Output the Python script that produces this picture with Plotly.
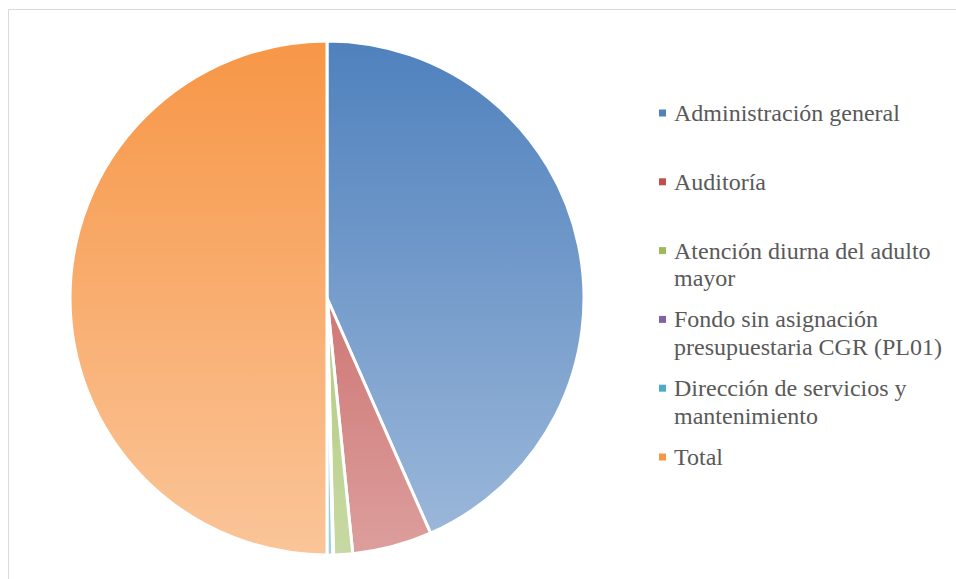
import base64
import plotly.graph_objects as go

# Budget share by program (percent of the pie)
categories = [
    "Administración general",
    "Auditoría",
    "Atención diurna del adulto mayor",
    "Fondo sin asignación presupuestaria CGR (PL01)",
    "Dirección de servicios y mantenimiento",
    "Total",
]
values = [43.4, 5.0, 1.2, 0.05, 0.35, 50.0]
colors = ["#4f81bd", "#c0504d", "#9bbb59", "#8064a2", "#4bacc6", "#f79646"]

# Legend text wrapped the way it is laid out beside the pie
legend_lines = [
    ["Administración general"],
    ["Auditoría"],
    ["Atención diurna del adulto", "mayor"],
    ["Fondo sin asignación", "presupuestaria CGR (PL01)"],
    ["Dirección de servicios y", "mantenimiento"],
    ["Total"],
]

W, H = 956, 579
cx, cy, r = 327, 298, 257
SERIF = "Liberation Serif, Times New Roman, serif"

fig = go.Figure()
fig.add_trace(go.Pie(
    labels=categories,
    values=values,
    sort=False,
    direction="clockwise",
    rotation=0,
    textinfo="none",
    hoverinfo="label+percent",
    marker=dict(colors=colors, line=dict(color="white", width=3)),
    domain=dict(x=[(cx - r) / W, (cx + r) / W], y=[(H - cy - r) / H, (H - cy + r) / H]),
    showlegend=False,
))

# Soft vertical light gradient over the pie
svg = (
    '<svg xmlns="http://www.w3.org/2000/svg" width="100" height="100" preserveAspectRatio="none">'
    '<defs><linearGradient id="g" x1="0" y1="0" x2="0" y2="1">'
    '<stop offset="0" stop-color="#ffffff" stop-opacity="0"/>'
    '<stop offset="1" stop-color="#ffffff" stop-opacity="0.45"/>'
    '</linearGradient></defs><rect width="100" height="100" fill="url(#g)"/></svg>'
)
uri = "data:image/svg+xml;base64," + base64.b64encode(svg.encode()).decode()
fig.add_layout_image(dict(
    source=uri, xref="paper", yref="paper",
    x=(cx - r - 2) / W, y=(H - cy + r + 2) / H,
    sizex=(2 * r + 4) / W, sizey=(2 * r + 4) / H,
    xanchor="left", yanchor="top", sizing="stretch", layer="above",
))

# Legend drawn beside the pie
y0, step, line_h = 113, 68.8, 27.5
for i, (lines, col) in enumerate(zip(legend_lines, colors)):
    yc = y0 + i * step
    fig.add_shape(type="rect", xref="paper", yref="paper",
                  x0=659 / W, x1=666 / W, y0=(H - yc - 3.5) / H, y1=(H - yc + 3.5) / H,
                  fillcolor=col, line=dict(width=0))
    for j, t in enumerate(lines):
        fig.add_annotation(
            text=t, xref="paper", yref="paper",
            x=672 / W, y=(H - (yc + j * line_h)) / H,
            xanchor="left", yanchor="middle", showarrow=False,
            font=dict(family=SERIF, size=24, color="#595959"),
        )

# Chart area frame
fig.add_shape(type="rect", xref="paper", yref="paper",
              x0=8.5 / W, x1=1.2, y0=-0.2, y1=(H - 9.5) / H,
              line=dict(color="#d9d9d9", width=1), fillcolor="rgba(0,0,0,0)")

fig.update_layout(
    width=W, height=H,
    margin=dict(l=0, r=0, t=0, b=0),
    paper_bgcolor="white", plot_bgcolor="white",
    font=dict(family=SERIF),
)

fig.write_html("out.html")
